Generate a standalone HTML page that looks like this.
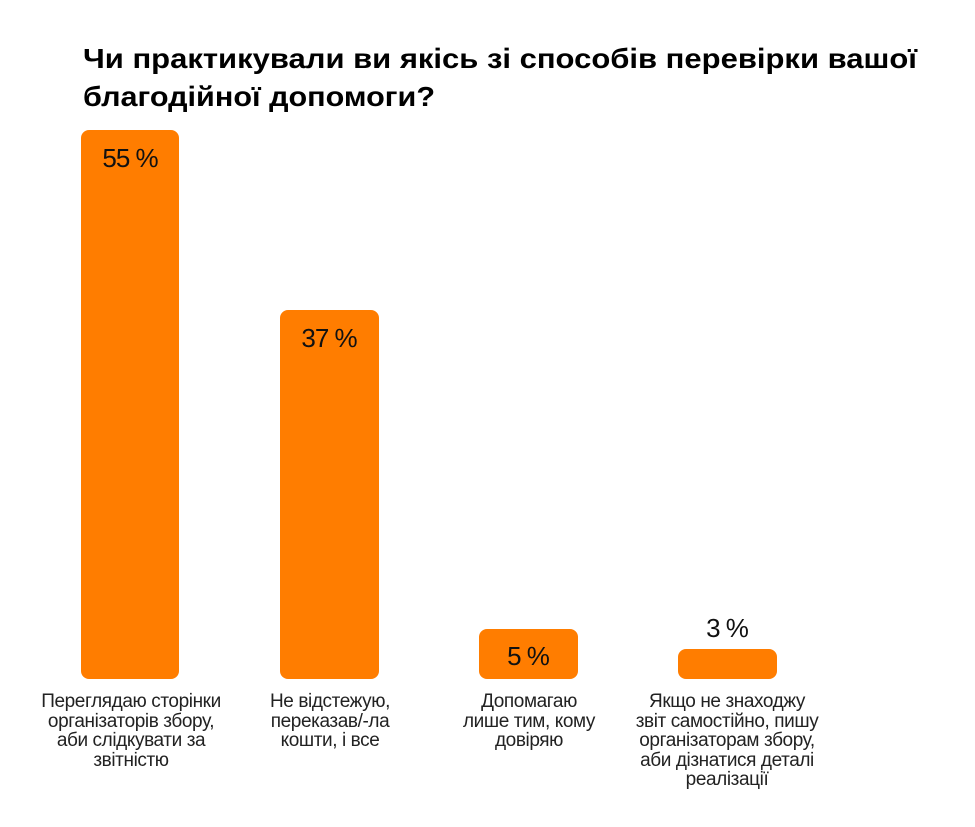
<!DOCTYPE html>
<html><head><meta charset="utf-8"><style>
html,body{margin:0;padding:0;background:#fff;}
svg{display:block;}
.t{font-family:"Liberation Sans",sans-serif;font-weight:bold;font-size:28px;fill:#000;}
.v{font-family:"Liberation Sans",sans-serif;font-size:26px;fill:#111;text-anchor:middle;letter-spacing:-1px;}
.l{font-family:"Liberation Sans",sans-serif;font-size:19px;fill:#222;text-anchor:middle;letter-spacing:-0.4px;}
</style></head><body>
<svg width="975" height="827" viewBox="0 0 975 827" xmlns="http://www.w3.org/2000/svg">
<text class="t" x="83" y="68" textLength="834" lengthAdjust="spacingAndGlyphs">Чи практикували ви якісь зі способів перевірки вашої</text>
<text class="t" x="83" y="106" textLength="352" lengthAdjust="spacingAndGlyphs">благодійної допомоги?</text>
<rect x="81" y="130" width="98" height="549" rx="8" fill="#FF7D00"/>
<rect x="280" y="310" width="99" height="369" rx="8" fill="#FF7D00"/>
<rect x="479" y="629" width="99" height="50" rx="8" fill="#FF7D00"/>
<rect x="678" y="649" width="99" height="30" rx="8" fill="#FF7D00"/>
<text class="v" x="130" y="167">55 %</text>
<text class="v" x="329" y="347">37 %</text>
<text class="v" x="528" y="665">5 %</text>
<text class="v" x="727" y="637">3 %</text>
<g class="l">
<text x="131" y="707">Переглядаю сторінки</text>
<text x="131" y="727">організаторів збору,</text>
<text x="131" y="746">аби слідкувати за</text>
<text x="131" y="766">звітністю</text>
<text x="330" y="707">Не відстежую,</text>
<text x="330" y="727">переказав/-ла</text>
<text x="330" y="746">кошти, і все</text>
<text x="529" y="707">Допомагаю</text>
<text x="529" y="727">лише тим, кому</text>
<text x="529" y="746">довіряю</text>
<text x="727" y="707">Якщо не знаходжу</text>
<text x="727" y="727">звіт самостійно, пишу</text>
<text x="727" y="746">організаторам збору,</text>
<text x="727" y="766">аби дізнатися деталі</text>
<text x="727" y="785">реалізації</text>
</g>
</svg>
</body></html>
